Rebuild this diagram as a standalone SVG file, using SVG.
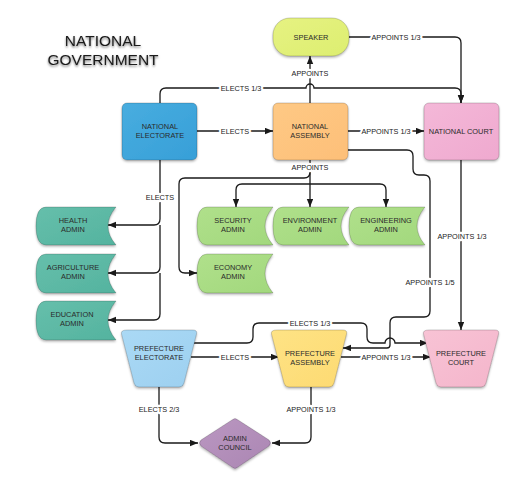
<svg xmlns="http://www.w3.org/2000/svg" width="516" height="479" viewBox="0 0 516 479">
<style>
.node{stroke:rgba(0,0,0,0.22);stroke-width:0.8;filter:url(#sh)}
.nt{font-family:"Liberation Sans",Arial,sans-serif;font-size:7.4px;fill:#2a2a2a;text-anchor:middle}
.lb{font-family:"Liberation Sans",Arial,sans-serif;font-size:7.3px;fill:#222;text-anchor:middle;stroke:#fff;stroke-width:4.5;paint-order:stroke;stroke-linejoin:round}
.c{fill:none;stroke:#1a1a1a;stroke-width:1.3}
.a{marker-end:url(#arr)}
.title{font-family:"Liberation Sans",Arial,sans-serif;font-size:15.5px;fill:#1a1a1a;text-anchor:middle;filter:url(#tsh)}
</style>
<defs>
<filter id="sh" x="-20%" y="-20%" width="140%" height="150%">
<feDropShadow dx="0" dy="1.5" stdDeviation="1.2" flood-color="#000" flood-opacity="0.3"/>
</filter>
<filter id="tsh" x="-20%" y="-40%" width="140%" height="180%">
<feDropShadow dx="0" dy="1.5" stdDeviation="1.2" flood-color="#000" flood-opacity="0.55"/>
</filter>
<marker id="arr" markerUnits="userSpaceOnUse" markerWidth="9" markerHeight="7" refX="8" refY="3.2" orient="auto">
<path d="M0,0 L8,3.2 L0,6.4 Z" fill="#1a1a1a"/>
</marker>
<linearGradient id="gBlue" x1="0" y1="0" x2="1" y2="1"><stop offset="0" stop-color="#48addf"/><stop offset="1" stop-color="#379fd8"/></linearGradient>
<linearGradient id="gOrange" x1="0" y1="0" x2="1" y2="1"><stop offset="0" stop-color="#fec985"/><stop offset="1" stop-color="#fdbf78"/></linearGradient>
<linearGradient id="gPink" x1="0" y1="0" x2="1" y2="1"><stop offset="0" stop-color="#f4b8d8"/><stop offset="1" stop-color="#efa9cf"/></linearGradient>
<linearGradient id="gSpeak" x1="0" y1="0" x2="1" y2="1"><stop offset="0" stop-color="#e6f282"/><stop offset="1" stop-color="#ddee70"/></linearGradient>
<linearGradient id="gTeal" x1="0" y1="0" x2="1" y2="1"><stop offset="0" stop-color="#66bfab"/><stop offset="1" stop-color="#54b39f"/></linearGradient>
<linearGradient id="gGreen" x1="0" y1="0" x2="1" y2="1"><stop offset="0" stop-color="#b0e08b"/><stop offset="1" stop-color="#a2d87d"/></linearGradient>
<linearGradient id="gLBlue" x1="0" y1="0" x2="1" y2="1"><stop offset="0" stop-color="#aad9f5"/><stop offset="1" stop-color="#9dd0f0"/></linearGradient>
<linearGradient id="gYellow" x1="0" y1="0" x2="1" y2="1"><stop offset="0" stop-color="#fee385"/><stop offset="1" stop-color="#fdda72"/></linearGradient>
<linearGradient id="gPink2" x1="0" y1="0" x2="1" y2="1"><stop offset="0" stop-color="#f8c3d5"/><stop offset="1" stop-color="#f4b5cb"/></linearGradient>
<linearGradient id="gPurple" x1="0" y1="0" x2="1" y2="1"><stop offset="0" stop-color="#ba97c1"/><stop offset="1" stop-color="#ab86b3"/></linearGradient>
</defs>
<rect width="516" height="479" fill="#fff"/>

<g id="title">
<text class="title" x="103" y="46">NATIONAL</text>
<text class="title" x="103" y="65">GOVERNMENT</text>
</g>

<g id="connectors">
<path class="c a" d="M349,37 H455 Q461,37 461,43 V103"/>
<path class="c a" d="M310,103 V56"/>
<path class="c a" d="M160,103 V94 Q160,88 166,88 H306 A4,4 0 0 1 314,88 H455 Q461,88 461,94 V103"/>
<path class="c a" d="M197,131 H273"/>
<path class="c a" d="M348,131 H424"/>
<path class="c a" d="M348,150 H407 Q413,150 413,156 V169 Q413,175 419,175 H424 Q430,175 430,181 V311 Q430,317 424,317 H396 Q390,317 390,323 V345 Q390,348 387,348 H343"/>
<path class="c a" d="M310,160 V207"/>
<path class="c a" d="M310,172 Q310,178 304,178 H185 Q179,178 179,184 V267 Q179,273 185,273 H197"/>
<path class="c a" d="M310,184 H242 Q236,184 236,190 V207"/>
<path class="c a" d="M310,184 H380 Q386,184 386,190 V207"/>
<path class="c a" d="M160,160 V219 Q160,225 154,225 H108"/>
<path class="c a" d="M160,225 V267 Q160,273 154,273 H108"/>
<path class="c a" d="M160,273 V314 Q160,320 154,320 H108"/>
<path class="c a" d="M461,160 V330"/>
<path class="c a" d="M191,357 H279"/>
<path class="c a" d="M341,357 H431"/>
<path class="c a" d="M194,343 H247 Q253,343 253,337 V329 Q253,323 259,323 H361 Q367,323 367,329 V337 Q367,343 373,343 H385 A5,5 0 0 1 395,343 H428"/>
<path class="c a" d="M159,387 V437 Q159,443 165,443 H198"/>
<path class="c a" d="M311,387 V437 Q311,443 305,443 H272"/>
<text class="lb" x="396" y="39.7">APPOINTS 1/3</text>
<text class="lb" x="310" y="75.7">APPOINTS</text>
<text class="lb" x="241" y="90.7">ELECTS 1/3</text>
<text class="lb" x="235" y="133.7">ELECTS</text>
<text class="lb" x="386" y="133.7">APPOINTS 1/3</text>
<text class="lb" x="310" y="169.7">APPOINTS</text>
<text class="lb" x="160" y="199.7">ELECTS</text>
<text class="lb" x="462" y="238.7">APPOINTS 1/3</text>
<text class="lb" x="430" y="284.7">APPOINTS 1/5</text>
<text class="lb" x="310" y="325.7">ELECTS 1/3</text>
<text class="lb" x="235" y="359.7">ELECTS</text>
<text class="lb" x="386" y="359.7">APPOINTS 1/3</text>
<text class="lb" x="159" y="411.7">ELECTS 2/3</text>
<text class="lb" x="311" y="411.7">APPOINTS 1/3</text>
</g>

<g id="speaker">
<rect class="node" x="273" y="18" width="76" height="38" rx="17" fill="url(#gSpeak)"/>
<text class="nt" x="311" y="39.5">SPEAKER</text>
</g>

<g id="national-electorate">
<rect class="node" x="122" y="103" width="75" height="57" rx="5" fill="url(#gBlue)"/>
<text class="nt" x="160" y="129">NATIONAL</text>
<text class="nt" x="160" y="138">ELECTORATE</text>
</g>

<g id="national-assembly">
<rect class="node" x="273" y="103" width="75" height="57" rx="5" fill="url(#gOrange)"/>
<text class="nt" x="310" y="129">NATIONAL</text>
<text class="nt" x="310" y="138">ASSEMBLY</text>
</g>

<g id="national-court">
<rect class="node" x="424" y="103" width="75" height="57" rx="5" fill="url(#gPink)"/>
<text class="nt" x="461" y="134">NATIONAL COURT</text>
</g>

<g id="health-admin">
<path class="node" fill="url(#gTeal)" d="M46,207 H116 Q100,226 116,245 H46 Q36,245 36,226 Q36,207 46,207 Z"/>
<text class="nt" x="73" y="223">HEALTH</text>
<text class="nt" x="73" y="232">ADMIN</text>
</g>

<g id="agriculture-admin">
<path class="node" fill="url(#gTeal)" d="M46,254 H116 Q100,273.5 116,293 H46 Q36,293 36,273.5 Q36,254 46,254 Z"/>
<text class="nt" x="73" y="270">AGRICULTURE</text>
<text class="nt" x="73" y="279">ADMIN</text>
</g>

<g id="education-admin">
<path class="node" fill="url(#gTeal)" d="M46,301 H116 Q100,320.5 116,340 H46 Q36,340 36,320.5 Q36,301 46,301 Z"/>
<text class="nt" x="72" y="317">EDUCATION</text>
<text class="nt" x="72" y="326">ADMIN</text>
</g>

<g id="security-admin">
<path class="node" fill="url(#gGreen)" d="M207,207 H273 Q257,226 273,245 H207 Q197,245 197,226 Q197,207 207,207 Z"/>
<text class="nt" x="233" y="223">SECURITY</text>
<text class="nt" x="233" y="232">ADMIN</text>
</g>

<g id="environment-admin">
<path class="node" fill="url(#gGreen)" d="M283,207 H349 Q333,226 349,245 H283 Q273,245 273,226 Q273,207 283,207 Z"/>
<text class="nt" x="310" y="223">ENVIRONMENT</text>
<text class="nt" x="310" y="232">ADMIN</text>
</g>

<g id="engineering-admin">
<path class="node" fill="url(#gGreen)" d="M359,207 H425 Q409,226 425,245 H359 Q349,245 349,226 Q349,207 359,207 Z"/>
<text class="nt" x="386" y="223">ENGINEERING</text>
<text class="nt" x="386" y="232">ADMIN</text>
</g>

<g id="economy-admin">
<path class="node" fill="url(#gGreen)" d="M207,254 H273 Q257,273.5 273,293 H207 Q197,293 197,273.5 Q197,254 207,254 Z"/>
<text class="nt" x="233" y="270">ECONOMY</text>
<text class="nt" x="233" y="279">ADMIN</text>
</g>

<g id="prefecture-electorate">
<path class="node" fill="url(#gLBlue)" d="M127,330 H193 Q197.5,330 196.5,334 L184,383 Q183,387 179,387 H139 Q135,387 134,383 L121.5,334 Q120.5,330 127,330 Z"/>
<text class="nt" x="159" y="350.5">PREFECTURE</text>
<text class="nt" x="159" y="359.5">ELECTORATE</text>
</g>

<g id="prefecture-assembly">
<path class="node" fill="url(#gYellow)" d="M277,330 H343 Q347.5,330 346.5,334 L334,383 Q333,387 329,387 H289 Q285,387 284,383 L271.5,334 Q270.5,330 277,330 Z"/>
<text class="nt" x="310" y="355.5">PREFECTURE</text>
<text class="nt" x="310" y="364.5">ASSEMBLY</text>
</g>

<g id="prefecture-court">
<path class="node" fill="url(#gPink2)" d="M429,330 H495 Q499.5,330 498.5,334 L486,383 Q485,387 481,387 H441 Q437,387 436,383 L423.5,334 Q422.5,330 429,330 Z"/>
<text class="nt" x="461" y="355.5">PREFECTURE</text>
<text class="nt" x="461" y="364.5">COURT</text>
</g>

<g id="admin-council">
<path class="node" fill="url(#gPurple)" d="M232,420 Q235,417 238,420 L269,440 Q272,443 269,446 L238,467 Q235,470 232,467 L201,446 Q198,443 201,440 Z"/>
<text class="nt" x="235" y="440.5">ADMIN</text>
<text class="nt" x="235" y="449.5">COUNCIL</text>
</g>
</svg>
